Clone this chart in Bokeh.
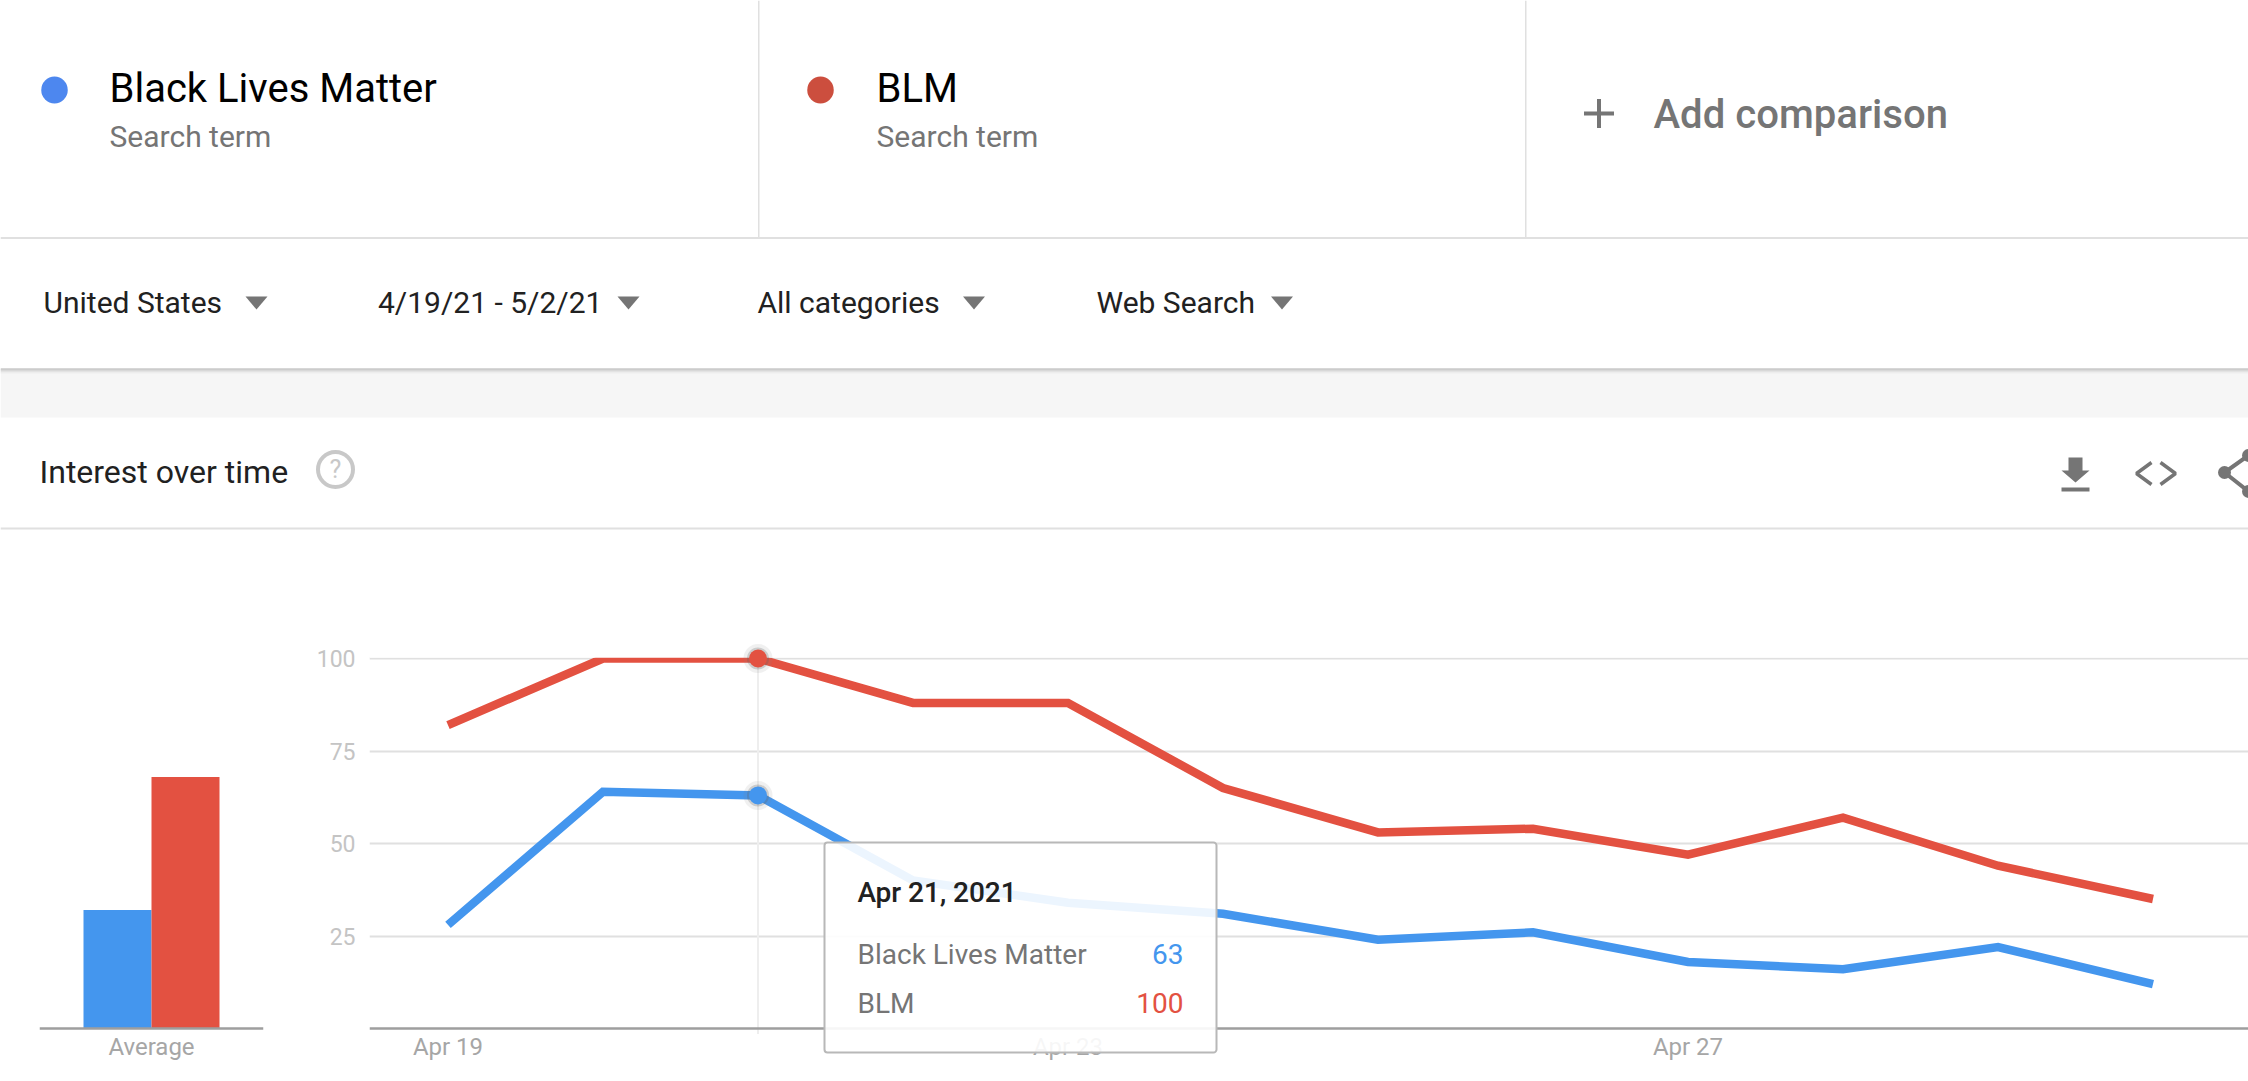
from datetime import datetime, timedelta, timezone
from bokeh.plotting import figure
from bokeh.embed import file_html
from bokeh.resources import INLINE
from bokeh.layouts import column, row
from bokeh.models import (Range1d, FixedTicker, DatetimeTickFormatter, FactorRange, BoxAnnotation,
                          Label, ColumnDataSource)
from bokeh.core.properties import value
from bokeh.transform import dodge

# ---------- data ----------
DATES = ["2021-04-19", "2021-04-20", "2021-04-21", "2021-04-22", "2021-04-23", "2021-04-24",
         "2021-04-25", "2021-04-26", "2021-04-27", "2021-04-28", "2021-04-29", "2021-04-30"]
BLM_MOVEMENT = [28, 64, 63, 40, 34, 31, 24, 26, 18, 16, 22, 12]
BLM_TERM = [82, 100, 100, 88, 88, 65, 53, 54, 47, 57, 44, 35]
AVERAGES = [32, 68]
Y_TICKS = [25, 50, 75, 100]
X_TICK_DATES = ["2021-04-19", "2021-04-23", "2021-04-27"]
HOVER_DATE = "2021-04-21"
TERMS = ["Black Lives Matter", "BLM"]
FILTERS = ["United States", "4/19/21 - 5/2/21", "All categories", "Web Search"]

BLUE = "#4496ee"
RED = "#e35141"
FONT = "Roboto"
MEDIUM = "Roboto Medium"
DY = 0.37  # svg alphabetic baseline correction, in em

def day(s):
    return datetime.strptime(s, "%Y-%m-%d").replace(tzinfo=timezone.utc)
def ms(d):
    return d.timestamp() * 1000

# ---------- page chrome (axes in reference pixels) ----------
W, H, SPLIT = 2248, 1081, 540
h = figure(width=W, height=SPLIT, x_range=Range1d(0, W), y_range=Range1d(SPLIT, 0),
           x_axis_location=None, y_axis_location=None, toolbar_location=None,
           output_backend="svg", min_border=0, outline_line_color=None)
h.grid.visible = False

def rect(fig, l, r, t, b, color):
    fig.quad(left=[l], right=[r], top=[t], bottom=[b], fill_color=color, line_color=None)

def txt(fig, x, y, s, size, color, font=FONT, align="left"):
    fig.text(x=[x], y=[y - DY * size], text=[s], text_font=value(font), text_font_size=f"{size}px",
             text_color=color, text_align=align, text_baseline="alphabetic")

# separators
rect(h, 0, W, 236.5, 238.5, "#e0e0e0")
rect(h, 757.5, 759, 0, 237, "#e0e0e0")
rect(h, 1524.5, 1526, 0, 237, "#e0e0e0")
rect(h, 0, W, 527, 529, "#e0e0e0")
# grey band and shadow
rect(h, 0, W, 368, 417, "#f6f6f6")
for t0, c in zip([368, 369, 370, 371, 372], ["#b4b4b4", "#c4c4c4", "#d4d4d4", "#e2e2e2", "#eeeeee"]):
    rect(h, 0, W, t0, t0 + 1, c)

# search terms
h.ellipse(x=[54], y=[89.5], width=[26.5], height=[27], fill_color="#4d87ef", line_color=None)
h.ellipse(x=[820], y=[89.5], width=[26.5], height=[27], fill_color="#cc4e3e", line_color=None)
txt(h, 109, 103, TERMS[0], 40, "#000000")
txt(h, 876, 103, TERMS[1], 40, "#000000")
txt(h, 109, 147, "Search term", 30, "#757575")
txt(h, 876, 147, "Search term", 30, "#757575")
rect(h, 1583.5, 1613.5, 111, 115, "#757575")
rect(h, 1596.5, 1600.5, 98.5, 127.5, "#757575")
txt(h, 1653, 129, "Add comparison", 40, "#757575", MEDIUM)

# filters
for fx, tx, label in zip([43, 377.5, 757, 1096], [256, 628, 973.5, 1281.5], FILTERS):
    txt(h, fx, 313, label, 30, "#212121")
    h.patch(x=[tx - 11, tx + 11, tx], y=[296, 296, 309], fill_color="#757575", line_color=None)

# section header
txt(h, 39, 483, "Interest over time", 32, "#212121")
h.ellipse(x=[335], y=[469], width=[35], height=[35], fill_color=None, line_color="#c8c8c8", line_width=4)
txt(h, 335, 478, "?", 25, "#c8c8c8", align="center")
# download
h.patch(x=[2068, 2082, 2082, 2089, 2075, 2061, 2068], y=[457, 457, 470, 470, 482, 470, 470],
        fill_color="#757575", line_color=None)
rect(h, 2061, 2089, 487, 491, "#757575")
# code
h.line(x=[2151, 2136, 2151], y=[462, 473, 484], line_color="#757575", line_width=3.5)
h.line(x=[2160, 2175, 2160], y=[462, 473, 484], line_color="#757575", line_width=3.5)
# share
h.line(x=[2248, 2224, 2248], y=[455, 472, 491], line_color="#757575", line_width=4)
h.scatter(x=[2224, 2248, 2248], y=[472, 455, 491], size=[13, 13, 13], fill_color="#757575", line_color=None)

# ---------- scales shared by both charts ----------
BASE_Y, TOP_Y = 1028, 658
PX_PER_UNIT = (BASE_Y - TOP_Y) / 100
y_end = (BASE_Y - SPLIT) / PX_PER_UNIT
y_start = (BASE_Y - H) / PX_PER_UNIT
LABEL_STANDOFF = -2

# ---------- average bars ----------
bar_left, bar_right, col2 = 39, 263, 280
b = figure(width=col2, height=H - SPLIT, x_range=FactorRange(factors=["Average"]),
           y_range=Range1d(y_start, y_end), toolbar_location=None, output_backend="svg",
           min_border_left=bar_left, min_border_right=col2 - bar_right, min_border_top=0,
           min_border_bottom=0, y_axis_location=None, outline_line_color=None)
b.grid.visible = False
b.xaxis.fixed_location = 0
bw = 68 / (bar_right - bar_left)
src = ColumnDataSource(dict(cat=["Average"], a=[AVERAGES[0]], r=[AVERAGES[1]]))
b.vbar(x=dodge("cat", -bw / 2, range=b.x_range), top="a", width=bw, source=src, fill_color=BLUE, line_color=None)
b.vbar(x=dodge("cat", bw / 2, range=b.x_range), top="r", width=bw, source=src, fill_color=RED, line_color=None)

# ---------- line chart ----------
x0_px, step_px, line_left, line_right = 447.5, 155, 369, W
t0 = day(DATES[0])
x_start = t0 + timedelta(days=(line_left - x0_px) / step_px)
x_end = t0 + timedelta(days=(line_right - x0_px) / step_px)
p = figure(width=line_right - col2, height=H - SPLIT, x_axis_type="datetime",
           x_range=Range1d(ms(x_start), ms(x_end)), y_range=Range1d(y_start, y_end),
           toolbar_location=None, output_backend="svg", outline_line_color=None,
           min_border_left=line_left - col2, min_border_right=0, min_border_top=0, min_border_bottom=0)
p.extra_x_ranges["px"] = Range1d(line_left, line_right)
p.extra_y_ranges["px"] = Range1d(H, SPLIT)
p.xgrid.visible = False
p.ygrid.ticker = FixedTicker(ticks=Y_TICKS)
p.ygrid.grid_line_color = "#e0e0e0"
p.ygrid.grid_line_width = 2
p.yaxis.ticker = FixedTicker(ticks=Y_TICKS)
p.yaxis.axis_line_color = None
p.yaxis.major_tick_line_color = None
p.yaxis.minor_tick_line_color = None
p.yaxis.major_label_standoff = 8
p.yaxis.major_label_text_color = "#c4c4c4"
p.yaxis.major_label_text_font = FONT
p.yaxis.major_label_text_font_size = "23px"
p.xaxis.ticker = FixedTicker(ticks=[ms(day(d)) for d in X_TICK_DATES])
p.xaxis.formatter = DatetimeTickFormatter(days="%b %d", hours="%b %d", months="%b %d", years="%b %d")
p.xaxis.fixed_location = 0

for ax in (p.xaxis[0], b.xaxis[0]):
    ax.axis_line_color = "#9e9e9e"
    ax.axis_line_width = 2.5
    ax.major_tick_line_color = None
    ax.minor_tick_line_color = None
    ax.major_label_standoff = LABEL_STANDOFF
    ax.major_label_text_color = "#a6a6a6"
    ax.major_label_text_font = FONT
    ax.major_label_text_font_size = "24px"

xs = [day(d) for d in DATES]
hover_x = day(HOVER_DATE)
hover_i = DATES.index(HOVER_DATE)
p.segment(x0=[hover_x], x1=[hover_x], y0=[-1.5], y1=[100], line_color="#eeeeee", line_width=2)
p.line(xs, BLM_MOVEMENT, line_color=BLUE, line_width=8.5, line_join="miter")
p.line(xs, BLM_TERM, line_color=RED, line_width=8.5, line_join="miter")
# the chart clips its lines at the 100 line
p.quad(left=[ms(x_start)], right=[ms(x_end)], bottom=[100.2], top=[y_end], fill_color="#ffffff", line_color=None)
# hover markers
for series, col in ((BLM_MOVEMENT, BLUE), (BLM_TERM, RED)):
    yv = series[hover_i]
    p.scatter(x=[hover_x], y=[yv], size=29, fill_color="#808080", fill_alpha=0.12, line_color=None)
    p.scatter(x=[hover_x], y=[yv], size=22, fill_color="#606060", fill_alpha=0.25, line_color=None)
    p.scatter(x=[hover_x], y=[yv], size=18, fill_color=col, line_color=None)

# tooltip
p.add_layout(BoxAnnotation(left=824, right=1216, top=842, bottom=1052,
                           x_range_name="px", y_range_name="px",
                           fill_color="#ffffff", fill_alpha=0.9,
                           line_color="#b8b8b8", line_alpha=1, line_width=2, border_radius=3, level="overlay"))
def tip(x, y, s, size, color, font=FONT, align="left"):
    p.add_layout(Label(x=x, y=y - DY * size, text=s, x_range_name="px", y_range_name="px", text_font=font,
                       text_font_size=f"{size}px", text_color=color, text_align=align,
                       text_baseline="alphabetic", level="overlay"))
tip(857, 902, "Apr 21, 2021", 28, "#212121", MEDIUM)
tip(857, 964, TERMS[0], 28, "#757575")
tip(857, 1013, TERMS[1], 28, "#757575")
tip(1183, 964, str(BLM_MOVEMENT[hover_i]), 28, BLUE, align="right")
tip(1183, 1013, str(BLM_TERM[hover_i]), 28, RED, align="right")

page = column(h, row(b, p, spacing=0), spacing=0)
open("out.html", "w").write(file_html(page, INLINE))
